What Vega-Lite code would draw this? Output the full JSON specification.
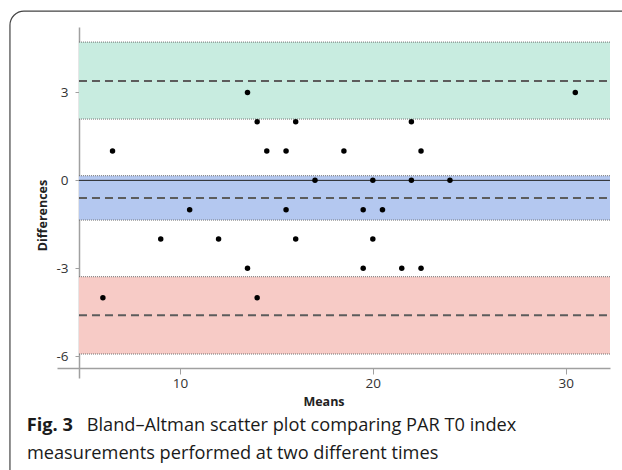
{
  "$schema": "https://vega.github.io/schema/vega-lite/v6.json",
  "width": 622,
  "height": 470,
  "autosize": {"type": "none"},
  "padding": 0,
  "background": "white",
  "datasets": {
    "points": [
      {"mean": 13.5, "diff": 3}, {"mean": 30.5, "diff": 3},
      {"mean": 14, "diff": 2}, {"mean": 16, "diff": 2}, {"mean": 22, "diff": 2},
      {"mean": 6.5, "diff": 1}, {"mean": 14.5, "diff": 1}, {"mean": 15.5, "diff": 1}, {"mean": 18.5, "diff": 1}, {"mean": 22.5, "diff": 1},
      {"mean": 17, "diff": 0}, {"mean": 20, "diff": 0}, {"mean": 22, "diff": 0}, {"mean": 24, "diff": 0},
      {"mean": 10.5, "diff": -1}, {"mean": 15.5, "diff": -1}, {"mean": 19.5, "diff": -1}, {"mean": 20.5, "diff": -1},
      {"mean": 9, "diff": -2}, {"mean": 12, "diff": -2}, {"mean": 16, "diff": -2}, {"mean": 20, "diff": -2},
      {"mean": 13.5, "diff": -3}, {"mean": 19.5, "diff": -3}, {"mean": 21.5, "diff": -3}, {"mean": 22.5, "diff": -3},
      {"mean": 6, "diff": -4}, {"mean": 14, "diff": -4}
    ],
    "bands": [
      {"band": "upper", "lo": 2.09, "mid": 3.385, "hi": 4.715},
      {"band": "mean", "lo": -1.354, "mid": -0.6, "hi": 0.158},
      {"band": "lower", "lo": -5.922, "mid": -4.6, "hi": -3.286}
    ],
    "one": [{}]
  },
  "config": {
    "view": {"stroke": null},
    "font": "Open Sans",
    "axisX": {
      "offset": -102,
      "domainColor": "#a0a0a0", "domainWidth": 1.5,
      "tickColor": "#a0a0a0", "tickSize": 6, "tickWidth": 1,
      "labelFont": "Open Sans", "labelFontSize": 13.5, "labelColor": "#333333", "labelPadding": 2,
      "labelExpr": "'' + datum.value",
      "grid": false,
      "titleFont": "Open Sans", "titleFontSize": 12.5, "titleFontWeight": "bold", "titleColor": "#222222",
      "titleX": 323.5, "titleY": 37, "titleAlign": "center", "titleBaseline": "alphabetic"
    },
    "axisY": {
      "offset": -79,
      "domainColor": "#a0a0a0", "domainWidth": 1.5,
      "tickColor": "#a0a0a0", "tickSize": 4, "tickWidth": 1,
      "labelFont": "Open Sans", "labelFontSize": 13.5, "labelColor": "#333333", "labelPadding": 7,
      "labelExpr": "'' + datum.value",
      "grid": false,
      "titleFont": "Open Sans", "titleFontSize": 12.5, "titleFontWeight": "bold", "titleColor": "#222222",
      "titleAngle": -90, "titleX": -37, "titleY": 215, "titleAlign": "center", "titleBaseline": "middle"
    }
  },
  "layer": [
    {
      "data": {"name": "one"},
      "mark": {"type": "rect", "clip": true, "fill": null, "stroke": "#444444", "strokeWidth": 1.2, "cornerRadius": 14},
      "encoding": {
        "x": {"datum": 1.18, "type": "quantitative", "title": "Means",
              "scale": {"domain": [3.62, 32.3], "range": [57, 610], "nice": false, "zero": false},
              "axis": {"values": [10, 20, 30]}},
        "x2": {"datum": 34.5},
        "y": {"datum": 5.77, "type": "quantitative", "title": "Differences",
              "scale": {"domain": [-6.74, 5.23], "range": [378, 27], "nice": false, "zero": false},
              "axis": {"values": [3, 0, -3, -6]}},
        "y2": {"datum": -11}
      }
    },
    {
      "data": {"name": "bands"},
      "mark": {"type": "rect"},
      "encoding": {
        "x": {"datum": 4.76, "type": "quantitative", "title": "Means"},
        "x2": {"datum": 32.3},
        "y": {"field": "lo", "type": "quantitative", "title": "Differences"},
        "y2": {"field": "hi"},
        "color": {"field": "band", "type": "nominal", "legend": null,
                  "scale": {"domain": ["upper", "mean", "lower"], "range": ["#c8ece0", "#b4c8f0", "#f7cbc6"]}}
      }
    },
    {
      "data": {"name": "bands"},
      "transform": [{"fold": ["lo", "hi"], "as": ["edge", "val"]}],
      "mark": {"type": "rule", "color": "#6e6e6e", "strokeWidth": 1, "strokeDash": [1, 1]},
      "encoding": {
        "x": {"datum": 4.76, "type": "quantitative", "title": "Means"},
        "x2": {"datum": 32.3},
        "y": {"field": "val", "type": "quantitative", "title": "Differences"}
      }
    },
    {
      "data": {"name": "bands"},
      "mark": {"type": "rule", "color": "#5c5c5c", "strokeWidth": 2, "strokeDash": [8, 5]},
      "encoding": {
        "x": {"datum": 4.76, "type": "quantitative", "title": "Means"},
        "x2": {"datum": 32.3},
        "y": {"field": "mid", "type": "quantitative", "title": "Differences"}
      }
    },
    {
      "data": {"name": "one"},
      "mark": {"type": "rule", "color": "#222222", "strokeWidth": 1},
      "encoding": {
        "x": {"datum": 4.76, "type": "quantitative", "title": "Means"},
        "x2": {"datum": 32.3},
        "y": {"datum": 0, "type": "quantitative", "title": "Differences"}
      }
    },
    {
      "data": {"name": "points"},
      "mark": {"type": "circle", "size": 30, "color": "#000000", "opacity": 1},
      "encoding": {
        "x": {"field": "mean", "type": "quantitative", "title": "Means"},
        "y": {"field": "diff", "type": "quantitative", "title": "Differences"}
      }
    },
    {
      "data": {"name": "one"},
      "mark": {"type": "text", "align": "left", "baseline": "alphabetic", "font": "Open Sans", "fontSize": 18.2, "fontWeight": "bold", "color": "#1a1a1a"},
      "encoding": {
        "x": {"datum": 2.05, "type": "quantitative", "title": "Means"},
        "y": {"datum": -8.55, "type": "quantitative", "title": "Differences"},
        "text": {"datum": "Fig. 3"}
      }
    },
    {
      "data": {"name": "one"},
      "mark": {"type": "text", "align": "left", "baseline": "alphabetic", "font": "Open Sans", "fontSize": 18.2, "color": "#1a1a1a"},
      "encoding": {
        "x": {"datum": 5.16, "type": "quantitative", "title": "Means"},
        "y": {"datum": -8.55, "type": "quantitative", "title": "Differences"},
        "text": {"datum": "Bland–Altman scatter plot comparing PAR T0 index"}
      }
    },
    {
      "data": {"name": "one"},
      "mark": {"type": "text", "align": "left", "baseline": "alphabetic", "font": "Open Sans", "fontSize": 18.2, "color": "#1a1a1a"},
      "encoding": {
        "x": {"datum": 2.06, "type": "quantitative", "title": "Means"},
        "y": {"datum": -9.5, "type": "quantitative", "title": "Differences"},
        "text": {"datum": "measurements performed at two different times"}
      }
    }
  ]
}
